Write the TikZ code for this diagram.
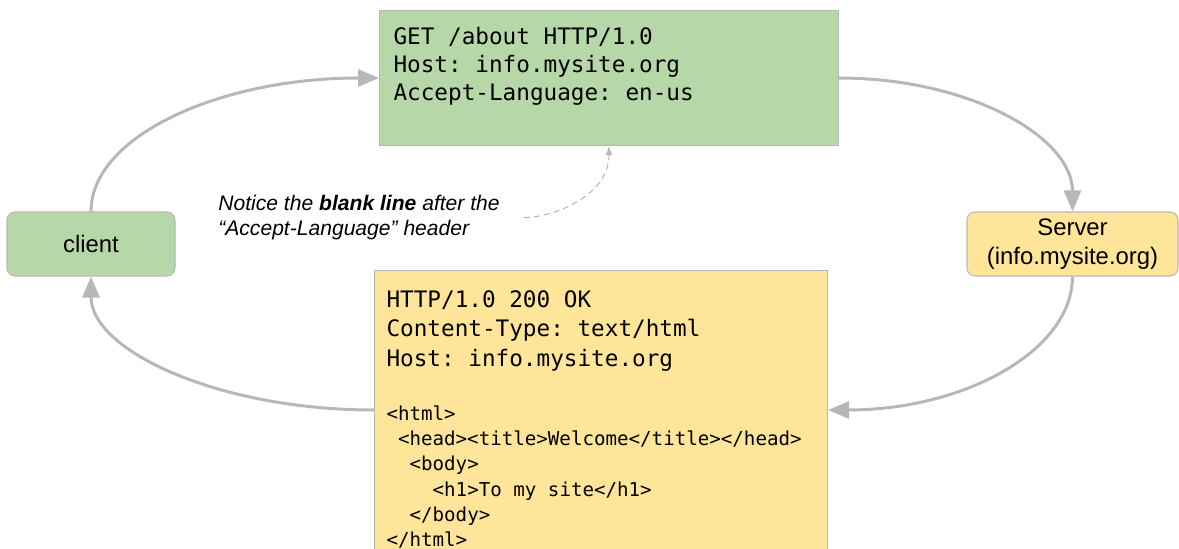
\documentclass[tikz,border=0pt]{standalone}
\usepackage{fontspec}
\setmainfont{Liberation Sans}
\setmonofont{DejaVu Sans Mono}
\usepackage{xcolor}
\usetikzlibrary{arrows.meta, positioning}

\definecolor{reqgreen}{HTML}{B6D7A8}
\definecolor{resyellow}{HTML}{FFE599}
\definecolor{linegray}{HTML}{B7B7B7}

% full-width spaces in the code boxes
\newcommand{\fixmono}{\frenchspacing\spaceskip=\fontcharwd\font`0\relax\xspaceskip=\spaceskip}

\begin{document}
\begin{tikzpicture}[
            host/.style={draw=linegray, line width=0.6pt, rounded corners=0.16cm, minimum height=1.28cm, align=center, font=\fontsize{13.6}{16.4}\selectfont},
            box/.style={draw=linegray, line width=0.6pt, anchor=north west, align=left, font=\fontsize{12.9}{15.9}\selectfont\ttfamily},
            note/.style={anchor=north west, inner sep=0pt, align=left, font=\fontsize{12}{14.7}\selectfont\itshape},
            flow/.style={draw=linegray, line width=1.7pt, -{Triangle[length=0.42cm, width=0.34cm]}},
            hint/.style={draw=linegray, line width=0.6pt, dash pattern=on 3.4pt off 2.3pt, -{Latex[length=1.8mm, width=1.4mm]}}
        ]
        \useasboundingbox (0,0) rectangle (23.58,10.98);

        % Nodes (manual layout to match figure)
        \node[host, fill=reqgreen, minimum width=3.36cm] (client) at (1.82, 6.1) {client};
        \node[host, fill=resyellow, minimum width=4.22cm] (server) at (21.45, 6.1) {Server\\(info.mysite.org)};

        \node[box, fill=reqgreen, text width=8.62cm, inner xsep=0.28cm, minimum height=2.7cm] (request) at (7.58, 10.78)
            {\fixmono GET /about HTTP/1.0\\Host: info.mysite.org\\Accept-Language: en-us\\\mbox{}};

        \node[box, fill=resyellow, text width=8.58cm, inner xsep=0.24cm, inner ysep=0.4cm] (response) at (7.48, 5.58)
            {{\fontsize{12.9}{16.8}\selectfont\fixmono HTTP/1.0 200 OK\\Content-Type: text/html\\Host: info.mysite.org\par}
             \vspace{16.3pt}
             {\fontsize{10.9}{14.4}\selectfont\fixmono <html>\\\mbox{~}<head><title>Welcome</title></head>\\\mbox{~~}<body>\\\mbox{~~~~}<h1>To my site</h1>\\\mbox{~~}</body>\\</html>\par}};

        \node[note] (remark) at (4.36, 7.09) {Notice the \textbf{blank line} after the\\“Accept-Language” header};

        % Edges
        \draw[flow] (client.north) .. controls +(0,1.5) and +(-3.2,0) .. (request.west);
        \draw[flow] (request.east) .. controls +(2.6,0) and +(0,1.49) .. (server.north);
        \draw[flow] (server.south) .. controls +(0,-1.48) and +(2.73,0) .. ([yshift=-2.8cm]response.north east);
        \draw[flow] ([yshift=-2.8cm]response.north west) .. controls +(-3.12,0) and +(0,-1.48) .. (client.south);

        \draw[hint, shorten <=0.48cm] (remark.east) to[out=0, in=-90] (request.south);

    \end{tikzpicture}
\end{document}
